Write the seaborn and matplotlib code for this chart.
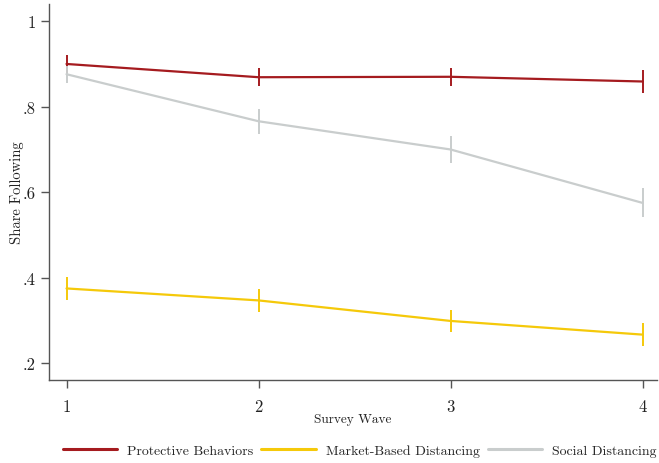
import matplotlib
matplotlib.use("Agg")
import matplotlib.pyplot as plt
import seaborn as sns
import pandas as pd
import numpy as np

# Survey waves and share of respondents following each behaviour group
waves = [1, 2, 3, 4]
protective = [0.900, 0.869, 0.870, 0.859]
protective_err = [0.020, 0.021, 0.021, 0.027]
market = [0.375, 0.347, 0.299, 0.267]
market_err = [0.026, 0.027, 0.026, 0.027]
social = [0.876, 0.766, 0.700, 0.575]
social_err = [0.020, 0.029, 0.032, 0.034]

series_names = ["Protective Behaviors", "Market-Based Distancing", "Social Distancing"]
colors = ["#a51b1f", "#f5c90a", "#c9cdcd"]
y_ticks = [0.2, 0.4, 0.6, 0.8, 1.0]
y_tick_labels = [".2", ".4", ".6", ".8", "1"]

frames = []
for name, vals, errs in zip(series_names,
                            [protective, market, social],
                            [protective_err, market_err, social_err]):
    frames.append(pd.DataFrame({"wave": waves, "share": vals, "err": errs, "group": name}))
df = pd.concat(frames, ignore_index=True)

sns.set_theme(style="white")
plt.rcParams["font.family"] = ["cmr10", "DejaVu Serif"]
plt.rcParams["axes.formatter.use_mathtext"] = True

fig = plt.figure(figsize=(6.59, 4.64), dpi=100)
ax = fig.add_axes([0.0744, 0.179, 0.9226, 0.810])

palette = dict(zip(series_names, colors))
sns.lineplot(data=df, x="wave", y="share", hue="group", palette=palette,
             hue_order=series_names, linewidth=1.6, ax=ax, legend=False)

# confidence intervals as plain vertical bars
for name in series_names:
    sub = df[df["group"] == name]
    ax.vlines(sub["wave"], sub["share"] - sub["err"], sub["share"] + sub["err"],
              color=palette[name], linewidth=1.4)

ax.set_xlim(0.909, 4.075)
ax.set_ylim(0.161, 1.04)
ax.set_xticks(waves)
ax.set_xticklabels([str(w) for w in waves])
ax.set_yticks(y_ticks)
ax.set_yticklabels(y_tick_labels)

for side in ["top", "right"]:
    ax.spines[side].set_visible(False)
for side in ["left", "bottom"]:
    ax.spines[side].set_color("#555555")
    ax.spines[side].set_linewidth(1.0)

ax.tick_params(axis="both", which="major", direction="out", length=5.5, width=1.0,
               color="#555555", labelsize=12, labelcolor="#222222", pad=4,
               left=True, bottom=True)
ax.tick_params(axis="x", pad=8)

ax.set_xlabel("Survey Wave", fontsize=9.6, color="#222222", labelpad=-1)
ax.set_ylabel("Share Following", fontsize=10.5, color="#222222")
ax.yaxis.set_label_coords(-0.041, 0.5)

handles = [plt.Line2D([], [], color=c, linewidth=2.2) for c in colors]
fig.legend(handles, series_names, loc="center", bbox_to_anchor=(0.5455, 0.026),
           ncol=3, frameon=False, fontsize=10, handlelength=3.9,
           handletextpad=0.72, columnspacing=0.6, borderpad=0.2)

fig.savefig("out.png", dpi=100)
